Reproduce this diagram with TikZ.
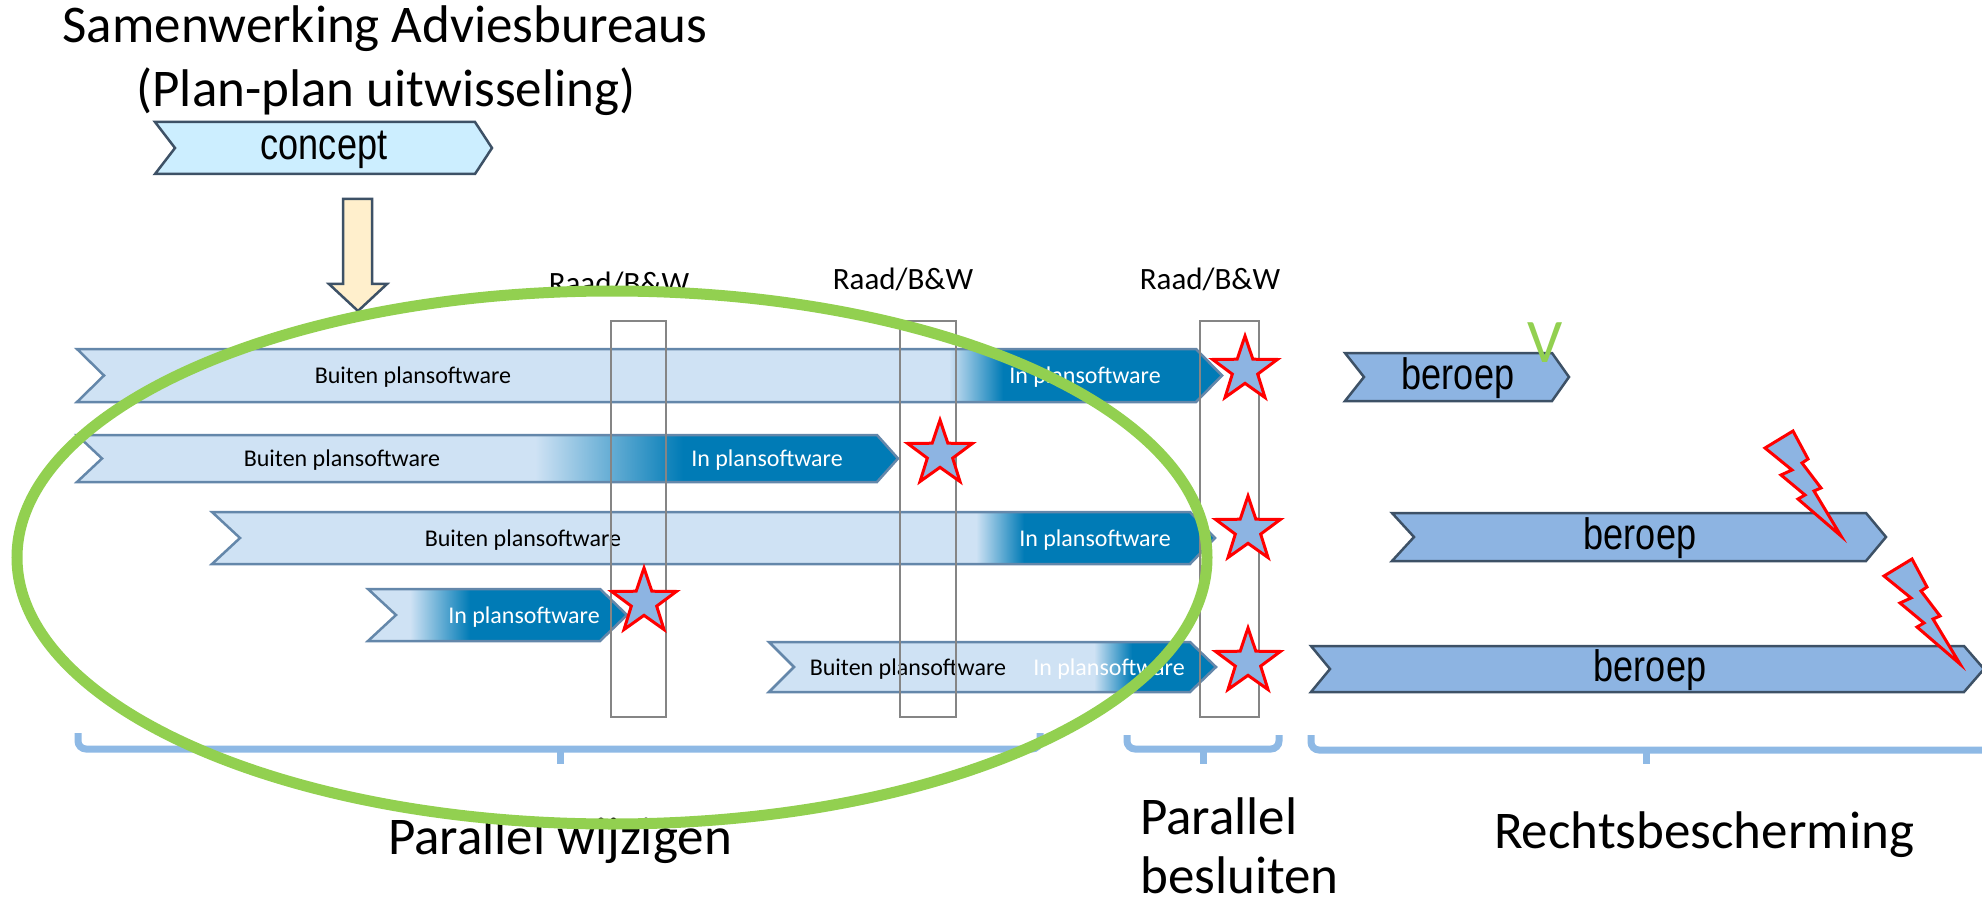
\documentclass[tikz,border=0pt]{standalone}
\usepackage{graphicx}
\usepackage{fontspec}
\setmainfont{Carlito}
\newfontfamily\arialfont{Liberation Sans}
\usetikzlibrary{shapes.geometric}
\definecolor{lightbar}{RGB}{207,226,244}
\definecolor{darkbar}{RGB}{0,123,182}
\definecolor{greybar}{RGB}{176,192,208}
\definecolor{barborder}{RGB}{100,135,170}
\definecolor{slate}{RGB}{61,81,102}
\definecolor{conceptfill}{RGB}{204,238,255}
\definecolor{arrowfill}{RGB}{255,239,204}
\definecolor{beroepfill}{RGB}{141,180,226}
\definecolor{bracketblue}{RGB}{142,185,229}
\definecolor{ellgreen}{RGB}{146,208,80}
\definecolor{raadgrey}{RGB}{133,133,133}
\newcommand\narrowtext[1]{\scalebox{0.82}[1]{#1}}
\newcommand\plbar[8]{%
  \begin{scope}
    \clip (#1,#5) -- (#3,#5) -- (#4,{(#5+#6)/2}) -- (#3,#6) -- (#1,#6) -- (#2,{(#5+#6)/2}) -- cycle;
    \fill[lightbar] (#1-2,#5-2) rectangle (#7+0.5,#6+2);
    \shade[left color=lightbar, middle color=greybar, right color=darkbar] (#7,#5-2) rectangle (#8,#6+2);
    \fill[darkbar] (#8-0.5,#5-2) rectangle (#4+2,#6+2);
  \end{scope}
  \draw[barline] (#1,#5) -- (#3,#5) -- (#4,{(#5+#6)/2}) -- (#3,#6) -- (#1,#6) -- (#2,{(#5+#6)/2}) -- cycle;
}
\tikzset{
  barline/.style={draw=barborder, line width=2.5pt, line join=miter},
  shapeline/.style={draw=slate, line width=2.5pt, line join=miter},
  bartext/.style={font=\fontsize{24}{28}\selectfont, anchor=base, inner sep=0pt},
  intext/.style={bartext, text=white},
  raadbox/.style={draw=raadgrey, line width=2.5pt},
  raadtext/.style={font=\fontsize{31}{36}\selectfont, anchor=base, inner sep=0pt},
  starnode/.style={star, star points=5, star point ratio=2.55, minimum size=68pt, inner sep=0pt, draw=red, fill=beroepfill, line width=3pt},
  bolt/.style={draw=red, fill=beroepfill, line width=3pt, line join=miter},
  bigtext/.style={font=\fontsize{53}{64}\selectfont, anchor=base, inner sep=0pt},
  arialtext/.style={font=\arialfont\fontsize{44}{50}\selectfont, anchor=base, inner sep=0pt},
  bracket/.style={draw=bracketblue, line width=7pt},
}
\begin{document}
\begin{tikzpicture}[x=1pt, y=-1pt]
\useasboundingbox[fill=white] (0,0) rectangle (1982,904);

% title
\node[bigtext] (title1) at (385,43) {Samenwerking Adviesbureaus};
\node[bigtext] (title2) at (386,107) {(Plan-plan uitwisseling)};

% concept chevron
\path[shapeline, fill=conceptfill] (155,122) -- (475,122) -- (492,148) -- (475,174) -- (155,174) -- (175,148) -- cycle;
\node[arialtext] (concept) at (324,160) {\narrowtext{concept}};

% yellow arrow
\path[shapeline, fill=arrowfill] (343,199) -- (372,199) -- (372,284) -- (387,284) -- (358,311) -- (329,284) -- (343,284) -- cycle;

% bars
\plbar{77}{104}{1196}{1222}{349}{402}{949}{1003}
\plbar{77}{102}{877}{898}{435}{482}{535}{683}
\plbar{212}{240}{1190}{1215}{512}{564}{976}{1024}
\plbar{368}{396}{600}{627}{589}{641}{410}{470}
\plbar{769}{794}{1190}{1216}{642}{692}{1094}{1132}

\node[bartext] (b1) at (413,383) {Buiten plansoftware};
\node[intext] (i1) at (1085,383) {In plansoftware};
\node[bartext] (b2) at (342,466) {Buiten plansoftware};
\node[intext] (i2) at (767,466) {In plansoftware};
\node[bartext] (b3) at (523,546) {Buiten plansoftware};
\node[intext] (i3) at (1095,546) {In plansoftware};
\node[intext] (i4) at (524,623) {In plansoftware};
\node[bartext] (b5) at (908,675) {Buiten plansoftware};
\node[intext] (i5) at (1109,675) {In plansoftware};

% Raad/B&W boxes
\draw[raadbox] (611,321) rectangle (666,717);
\draw[raadbox] (900,321) rectangle (956,717);
\draw[raadbox] (1200,321) rectangle (1259,717);
\node[raadtext] (r1) at (619,294) {Raad/B\&W};
\node[raadtext] (r2) at (903,289) {Raad/B\&W};
\node[raadtext] (r3) at (1210,289) {Raad/B\&W};

% stars
\node[starnode] (s1) at (1245,370) {};
\node[starnode] (s2) at (940,454) {};
\node[starnode] (s3) at (1248,530) {};
\node[starnode] (s4) at (644,602) {};
\node[starnode] (s5) at (1248,662) {};

% beroep arrows
\path[shapeline, fill=beroepfill] (1345,353) -- (1552,353) -- (1569,377) -- (1552,401) -- (1345,401) -- (1364,377) -- cycle;
\path[shapeline, fill=beroepfill] (1392,513) -- (1866,513) -- (1886,537) -- (1866,561) -- (1392,561) -- (1414,537) -- cycle;
\path[shapeline, fill=beroepfill] (1311,646) -- (1964,646) -- (1984,669) -- (1964,692) -- (1311,692) -- (1330,669) -- cycle;
\node[arialtext] (be1) at (1458,389) {\narrowtext{beroep}};
\node[arialtext] (be2) at (1640,549) {\narrowtext{beroep}};
\node[arialtext] (be3) at (1650,681) {\narrowtext{beroep}};

% check mark V
\node[font=\fontsize{62}{62}\selectfont, text=ellgreen, anchor=base, inner sep=0pt] (vmark) at (1545,362) {V};

% lightning bolts
\path[bolt] (1793,431) -- (1808,459) -- (1802,463) -- (1821,488) -- (1814,491) -- (1841,536) -- (1798,499) -- (1805,495) -- (1781,475) -- (1792,470) -- (1765,448) -- cycle;
\begin{scope}[shift={(119,128)}]
\path[bolt] (1793,431) -- (1808,459) -- (1802,463) -- (1821,488) -- (1814,491) -- (1841,536) -- (1798,499) -- (1805,495) -- (1781,475) -- (1792,470) -- (1765,448) -- cycle;
\end{scope}

% brackets
\draw[bracket, rounded corners=8pt] (78,733) -- (78,749) -- (1040,749) -- (1040,733);
\draw[bracket] (560,749) -- (560,764);
\draw[bracket, rounded corners=8pt] (1127,735) -- (1127,749) -- (1279,749) -- (1279,735);
\draw[bracket] (1203,749) -- (1203,764);
\draw[bracket, rounded corners=8pt] (1311,735) -- (1311,750) -- (1985,750);
\draw[bracket] (1646,750) -- (1646,764);

% bottom labels
\node[bigtext] (pw) at (560,854) {Parallel wijzigen};
\node[bigtext, anchor=base west] (pb1) at (1140,834) {Parallel};
\node[bigtext, anchor=base west, text depth=0pt] (pb2) at (1140,893) {besluiten};
\node[bigtext] (rb) at (1704,848) {Rechtsbescherming};

% green ellipse
\node[draw=ellgreen, line width=11pt, ellipse, minimum width=1190pt, minimum height=533pt, inner sep=0pt] (ring) at (612,557.5) {};
\end{tikzpicture}
\end{document}
